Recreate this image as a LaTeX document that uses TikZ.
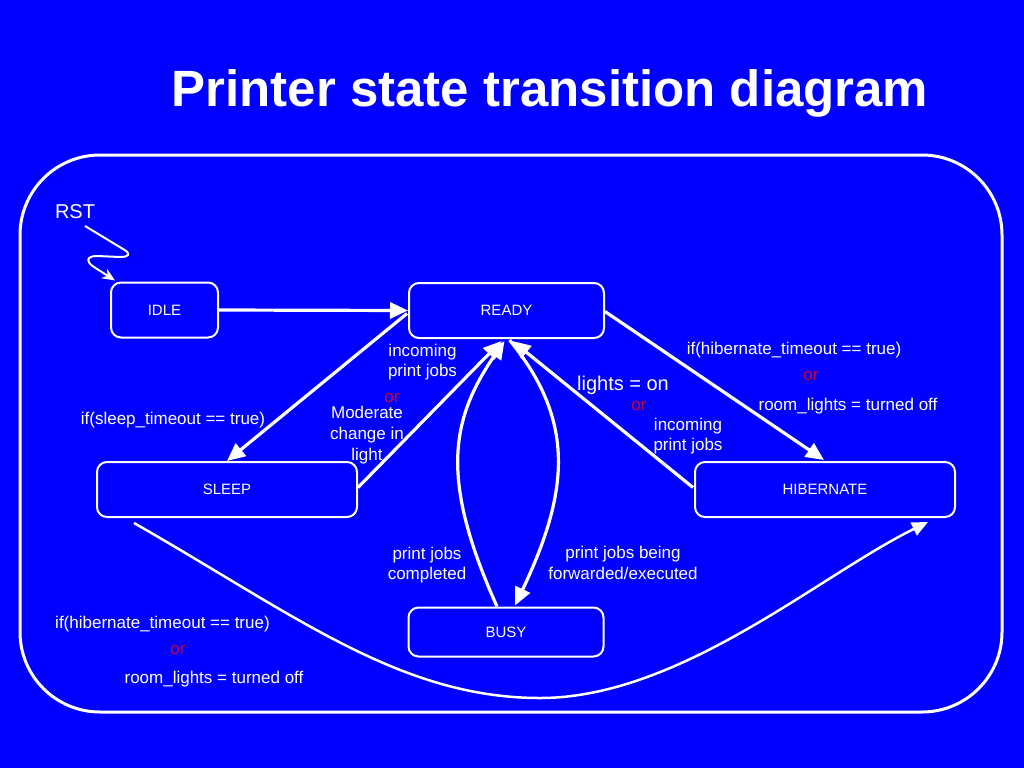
\documentclass[tikz,border=0pt]{standalone}
\usepackage{fontspec}
\setmainfont{Liberation Sans}
\usetikzlibrary{arrows.meta,calc}
\definecolor{bg}{RGB}{0,0,255}
\definecolor{orred}{RGB}{204,0,51}
\begin{document}
\begin{tikzpicture}[x=1pt,y=-1pt,
  statebox/.style={draw=white,line width=2pt,rounded corners=10pt,text=white,inner sep=0pt,
    font=\fontsize{15}{18}\selectfont},
  lbl/.style={text=white,font=\fontsize{17}{20.5}\selectfont,align=center,inner sep=0pt},
  biglbl/.style={text=white,font=\fontsize{20}{24}\selectfont,inner sep=0pt},
  orlbl/.style={text=orred,font=\fontsize{17}{20}\selectfont,inner sep=0pt},
  arr/.style={draw=white,line width=3.2pt,-{Triangle[length=18pt,width=16pt]}},
  thinarr/.style={draw=white,line width=2.5pt,-{Triangle[length=16pt,width=14pt]}},
  rstarr/.style={draw=white,line width=2pt,line join=round,-{Stealth[length=13pt,width=11pt]}}
]
\useasboundingbox[fill=bg] (0,0) rectangle (1024,768);
% outer frame
\draw[white,line width=3pt,rounded corners=80pt] (20,155) rectangle (1002,712);
% title
\node[text=white,font=\fontsize{51}{60}\selectfont\bfseries,inner sep=0pt] (title) at (550,93) {Printer state transition diagram};
% states
\node[statebox,minimum width=107pt,minimum height=55pt] (idle) at (164.5,310) {IDLE};
\node[statebox,minimum width=195pt,minimum height=55pt] (ready) at (506.5,310.5) {READY};
\node[statebox,minimum width=260pt,minimum height=55pt] (sleep) at (227,489.5) {SLEEP};
\node[statebox,minimum width=260pt,minimum height=55pt] (hib) at (825,489.5) {HIBERNATE};
\node[statebox,minimum width=195pt,minimum height=49pt] (busy) at (506,632) {BUSY};
% RST
\node[biglbl] (rst) at (75,212) {RST};
\coordinate (rststart) at (85,226);
\coordinate (idletip) at ($(idle.north west)+(5,-1)$);
\draw[rstarr] (rststart) -- (123,249) .. controls (132,254) and (129,257) .. (120,257)
  -- (97,256) .. controls (86,256) and (86,262) .. (94,267) -- (idletip);
% edges
\draw[arr] (idle.east) -- (ready.west);
\draw[arr] ($(ready.west)+(-1,3)$) -- (sleep.north);
\draw[arr] ($(sleep.east)+(0,-2)$) -- ($(ready.south)+(-5,2)$);
\draw[arr] ($(busy.north)+(-9,0)$) .. controls (440,480) and (450,420) .. ($(ready.south)+(-2,2)$);
\draw[arr] ($(ready.south)+(3,1)$) .. controls (575,420) and (570,490) .. ($(busy.north)+(9,-1)$);
\draw[arr] ($(hib.west)+(-1,-2)$) -- ($(ready.south)+(6,2)$);
\draw[arr] ($(ready.east)+(0,1)$) -- ($(hib.north)+(-1,-1)$);
\coordinate (slstart) at ($(sleep.south west)+(38,5)$);
\coordinate (hibtip) at ($(hib.south east)+(-28,4)$);
\draw[thinarr] (slstart) .. controls (295,615) and (400,698) .. (540,698)
  .. controls (680,698) and (820,575) .. (hibtip);
% labels
\node[lbl] (l1) at (422.5,362) {incoming\\print jobs};
\node[orlbl] (o1) at (392,398) {or};
\node[lbl,font=\fontsize{17}{21}\selectfont] (l2) at (367,435) {Moderate\\change in\\light};
\node[lbl] (l3) at (173,420) {if(sleep\_timeout == true)};
\node[biglbl] (l4) at (623,385) {lights = on};
\node[orlbl] (o2) at (639,406) {or};
\node[lbl] (l5) at (688,436) {incoming\\print jobs};
\node[lbl] (l6) at (794,350) {if(hibernate\_timeout == true)};
\node[orlbl] (o3) at (811,376) {or};
\node[lbl] (l7) at (848,406) {room\_lights = turned off};
\node[lbl] (l8) at (427,565) {print jobs\\completed};
\node[lbl] (l9) at (623,563) {print jobs being\\forwarded/executed};
\node[lbl] (l10) at (162.5,624) {if(hibernate\_timeout == true)};
\node[orlbl] (o4) at (178,650) {or};
\node[lbl] (l11) at (214,679) {room\_lights = turned off};
\end{tikzpicture}
\end{document}
